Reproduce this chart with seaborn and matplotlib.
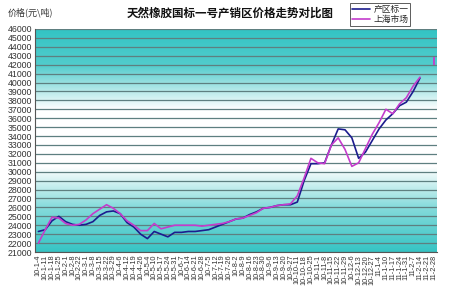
import numpy as np
import pandas as pd
import matplotlib
matplotlib.use("Agg")
import matplotlib.pyplot as plt
import seaborn as sns
from matplotlib.colors import LinearSegmentedColormap
from matplotlib.lines import Line2D

# ---------------- data ----------------
dates = ["10-1-4", "10-1-11", "10-1-18", "10-1-25", "10-2-1", "10-2-8", "10-2-22", "10-3-1",
         "10-3-8", "10-3-15", "10-3-22", "10-3-29", "10-4-6", "10-4-12", "10-4-19", "10-4-26",
         "10-5-4", "10-5-10", "10-5-17", "10-5-24", "10-5-31", "10-6-7", "10-6-14", "10-6-21",
         "10-6-28", "10-7-5", "10-7-12", "10-7-19", "10-7-26", "10-8-2", "10-8-9", "10-8-16",
         "10-8-23", "10-8-30", "10-9-6", "10-9-13", "10-9-20", "10-9-27", "10-10-11", "10-10-18",
         "10-10-25", "10-11-1", "10-11-8", "10-11-15", "10-11-22", "10-11-29", "10-12-6", "10-12-13",
         "10-12-20", "10-12-27", "11-1-4", "11-1-10", "11-1-17", "11-1-24", "11-1-31", "11-2-7",
         "11-2-14", "11-2-21", "11-2-28"]

origin_price = [23300, 23500, 24500, 25000, 24400, 24100, 24000, 24100, 24400, 25100,
                25500, 25600, 25300, 24300, 23800, 23000, 22500, 23300, 23000, 22700,
                23200, 23200, 23300, 23300, 23400, 23500, 23800, 24100, 24400, 24700,
                24800, 25200, 25500, 25900, 26000, 26200, 26300, 26300, 26600, 29000,
                30900, 30900, 31000, 33000, 34800, 34700, 33800, 31500, 32200, 33500,
                34800, 35800, 36500, 37400, 37800, 39000, 40500, np.nan, np.nan]

shanghai_price = [22000, 23500, 24900, 24800, 24200, 24000, 24100, 24600, 25300, 25800,
                  26300, 25900, 25300, 24500, 24000, 23400, 23400, 24200, 23600, 23800,
                  24000, 24000, 24000, 24000, 23900, 24000, 24100, 24200, 24400, 24700,
                  24800, 25100, 25400, 25900, 26000, 26200, 26300, 26400, 27300, 29300,
                  31500, 31000, 30900, 33000, 33800, 32500, 30600, 31000, 32600, 34200,
                  35500, 37000, 36500, 37600, 38300, 39600, 40600, np.nan, 42400]

series_names = ["产区标一", "上海市场"]
y_ticks = list(range(21000, 46001, 1000))

# ---------------- style ----------------
sns.set_style("white")
plt.rcParams["font.family"] = ["Noto Sans CJK SC", "DejaVu Sans"]

BLUE = "#1c1c8e"
MAGENTA = "#c43ccc"

fig = plt.figure(figsize=(4.5, 3.0), dpi=100)
ax = fig.add_axes([35 / 450, 1 - 252 / 300, (437 - 35) / 450, (252 - 29) / 300])

n = len(dates)
idx = np.arange(n)


def segments(values):
    # give each run of consecutive valid values its own id so gaps are not bridged
    seg, cur, out = 0, 0, []
    prev_nan = False
    for v in values:
        if np.isnan(v):
            prev_nan = True
            out.append(-1)
            continue
        if prev_nan:
            cur += 1
        prev_nan = False
        out.append(cur)
    return out


df = pd.DataFrame({
    "idx": np.concatenate([idx, idx]),
    "price": np.concatenate([origin_price, shanghai_price]),
    "series": [series_names[0]] * n + [series_names[1]] * n,
    "seg": segments(origin_price) + segments(shanghai_price),
})
df["unit"] = df["series"] + "_" + df["seg"].astype(str)
df = df.dropna()

ax.set_xlim(-0.5, n - 0.5)
ax.set_ylim(21000, 46000)

# gradient background: teal at top and bottom, white in the middle
cmap = LinearSegmentedColormap.from_list(
    "bg", [(0.0, "#33c4c4"), (0.16, "#52cccc"), (0.36, "#ffffff"), (0.62, "#ffffff"),
           (0.8, "#86dbdb"), (1.0, "#36c4c4")])
grad = np.linspace(0, 1, 256).reshape(-1, 1)
ax.imshow(grad, cmap=cmap, aspect="auto", extent=[-0.5, n - 0.5, 21000, 46000],
          origin="upper", zorder=0)

for v in y_ticks:
    ax.axhline(v, color="#5e7f80", lw=0.9, zorder=1)

sns.lineplot(data=df, x="idx", y="price", hue="series", units="unit",
             palette=[BLUE, MAGENTA], ax=ax, lw=1.2, legend=False, zorder=3, estimator=None)
# isolated last quotation of the Shanghai series
last = df[(df["series"] == series_names[1]) & (df["idx"] == idx[-1])]
ax.plot(last["idx"], last["price"], marker="|", ms=6, mew=1.3, color=MAGENTA, ls="none", zorder=3)

ax.set_yticks(y_ticks)
ax.set_yticklabels([str(v) for v in y_ticks], fontsize=6.3, family="Liberation Sans", color="#333333")
ax.set_xticks(idx)
ax.set_xticklabels(dates, rotation=90, fontsize=5.3, family="Liberation Sans", color="#333333")
ax.tick_params(axis="x", length=2, width=0.6, pad=2, direction="in", color="#333333")
ax.tick_params(axis="y", length=0, pad=2)
ax.set_xlabel("")
ax.set_ylabel("")
for s in ["left", "bottom"]:
    ax.spines[s].set_color("#555555")
    ax.spines[s].set_linewidth(0.8)
for s in ["top", "right"]:
    ax.spines[s].set_visible(False)

fig.text(230 / 450, 1 - 13 / 300, "天然橡胶国标一号产销区价格走势对比图", ha="center", va="center",
         fontsize=8.3, fontweight="bold", color="#111111")
fig.text(8 / 450, 1 - 12 / 300, "价格(元\\吨)", ha="left", va="center", fontsize=6.5, color="#333333")

handles = [Line2D([0], [0], color=BLUE, lw=1.2), Line2D([0], [0], color=MAGENTA, lw=1.2)]
leg = fig.legend(handles, series_names, loc="upper left", bbox_to_anchor=(350 / 450, 1 - 3 / 300),
                 fontsize=6.3, frameon=True, fancybox=False, handlelength=2.0, handletextpad=0.4,
                 borderpad=0.25, labelspacing=0.1, borderaxespad=0)
leg.get_frame().set_edgecolor("#333333")
leg.get_frame().set_linewidth(0.7)

fig.savefig("out.png", dpi=100)
